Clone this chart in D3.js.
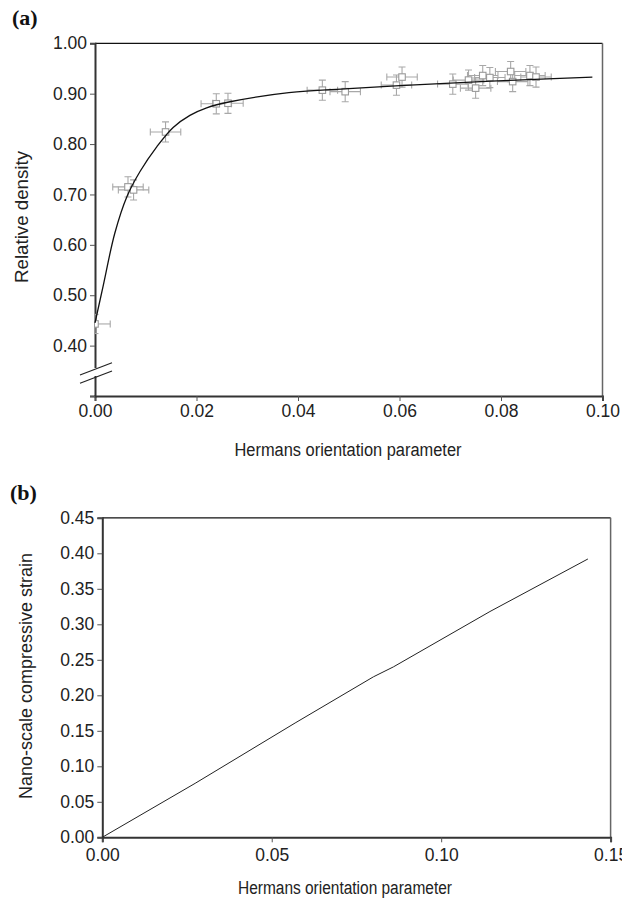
<!DOCTYPE html>
<html>
<head>
<meta charset="utf-8">
<script src="https://cdn.jsdelivr.net/npm/d3@7"></script>
<style>
  body { margin: 0; background: #fff; }
  svg { display: block; font-family: "Liberation Sans", Arial, sans-serif; }
</style>
</head>
<body>
<script>
// panel (a): measured points with error bars
const hermansA = [0.0000, 0.0065, 0.0076, 0.0139, 0.0239, 0.0262, 0.0448, 0.0493, 0.0594, 0.0605,
	0.0705, 0.0736, 0.0750, 0.0764, 0.0778, 0.0819, 0.0823, 0.0857, 0.0869];
const densityA = [0.443, 0.715, 0.709, 0.824, 0.880, 0.881, 0.907, 0.904, 0.917, 0.933,
	0.919, 0.927, 0.911, 0.936, 0.932, 0.944, 0.924, 0.936, 0.933];
const xErrA = [0.003, 0.003, 0.003, 0.003, 0.003, 0.003, 0.003, 0.003, 0.003, 0.003,
	0.003, 0.003, 0.003, 0.003, 0.003, 0.003, 0.003, 0.003, 0.003];
const yErrA = [0.019, 0.02, 0.02, 0.02, 0.02, 0.02, 0.02, 0.02, 0.02, 0.02,
	0.02, 0.02, 0.02, 0.02, 0.02, 0.02, 0.02, 0.02, 0.02];

// panel (a): fitted curve
const fitX = [0.0000, 0.0016, 0.0039, 0.0063, 0.0089, 0.0122, 0.0154, 0.0187, 0.0220, 0.0266, 0.0382, 0.0500, 0.0680, 0.0830, 0.0980];
const fitY = [0.445, 0.518, 0.623, 0.696, 0.746, 0.795, 0.833, 0.857, 0.872, 0.884, 0.902, 0.910, 0.920, 0.927, 0.933];

const yTicksA = [0.30, 0.40, 0.50, 0.60, 0.70, 0.80, 0.90, 1.00];
const xTicksA = [0.00, 0.02, 0.04, 0.06, 0.08, 0.10];

// panel (b): strain line
const hermansB = [0.0000, 0.0274, 0.0569, 0.0800, 0.0859, 0.1144, 0.1433];
const strainB = [0.000, 0.076, 0.161, 0.226, 0.240, 0.318, 0.392];

const yTicksB = [0.00, 0.05, 0.10, 0.15, 0.20, 0.25, 0.30, 0.35, 0.40, 0.45];
const xTicksB = [0.00, 0.05, 0.10, 0.15];

const W = 622, H = 904;
const svg = d3.select("body").append("svg").attr("width", W).attr("height", H);

function frame(g, x, y, w, h) {
	// top and right border lines
	g.append("line").attr("x1", x).attr("x2", x + w).attr("y1", y).attr("y2", y)
		.attr("stroke", "#111").attr("stroke-width", 1.2);
	g.append("line").attr("x1", x + w).attr("x2", x + w).attr("y1", y).attr("y2", y + h)
		.attr("stroke", "#666").attr("stroke-width", 1.5);
}

function styleAxis(ax) {
	ax.select(".domain").attr("stroke", "#333").attr("stroke-width", 2);
	ax.selectAll(".tick line").attr("stroke", "#555").attr("stroke-width", 1);
	ax.selectAll(".tick text").attr("fill", "#222").attr("font-size", 17.5);
}

function title(txt, tr, size, len) {
	svg.append("text").text(txt)
		.attr("transform", tr).attr("text-anchor", "middle")
		.attr("font-size", size).attr("fill", "#222")
		.attr("textLength", len).attr("lengthAdjust", "spacingAndGlyphs");
}

// ---------- panel (a) ----------
{
	const left = 95, top = 43.3, right = 602.5, bottom = 396;
	const x = d3.scaleLinear().domain([0, 0.10]).range([left, right]);
	const y = d3.scaleLinear().domain([0.30, 1.00]).range([bottom, top]);
	const g = svg.append("g");

	svg.append("text").text("(a)").attr("x", 12).attr("y", 25)
		.attr("font-family", "'Liberation Serif', 'Times New Roman', serif")
		.attr("font-weight", "bold").attr("font-size", 22).attr("fill", "#111");

	frame(g, left, top, right - left, bottom - top);

	const ax = g.append("g").attr("transform", "translate(0," + bottom + ")")
		.call(d3.axisBottom(x).tickValues(xTicksA).tickFormat(d3.format(".2f")).tickSizeOuter(0).tickSize(5).tickPadding(4));
	styleAxis(ax);
	const ay = g.append("g").attr("transform", "translate(" + left + ",0)")
		.call(d3.axisLeft(y).tickValues(yTicksA).tickFormat(d => d < 0.35 ? "" : d3.format(".2f")(d)).tickSizeOuter(0).tickSize(5).tickPadding(3));
	styleAxis(ay);

	// axis break marks
	g.append("rect").attr("x", left - 2).attr("y", 368).attr("width", 4).attr("height", 8).attr("fill", "#fff");
	[[375, 362.7], [383.3, 371]].forEach(p => {
		g.append("line").attr("x1", 80).attr("y1", p[0]).attr("x2", 112).attr("y2", p[1])
			.attr("stroke", "#222").attr("stroke-width", 1.2);
	});

	svg.append("defs").append("clipPath").attr("id", "clipA")
		.append("rect").attr("x", left).attr("y", top).attr("width", right - left).attr("height", bottom - top);

	const pts = g.append("g").attr("clip-path", "url(#clipA)");
	const data = hermansA.map((d, i) => ({x: d, y: densityA[i], ex: xErrA[i], ey: yErrA[i]}));
	const cap = 3.5;
	const eb = pts.selectAll("g.err").data(data).join("g").attr("class", "err")
		.attr("stroke", "#a8a8a8").attr("stroke-width", 1.1).attr("fill", "none");
	eb.append("line").attr("x1", d => x(d.x - d.ex)).attr("x2", d => x(d.x + d.ex)).attr("y1", d => y(d.y)).attr("y2", d => y(d.y));
	eb.append("line").attr("x1", d => x(d.x)).attr("x2", d => x(d.x)).attr("y1", d => y(d.y - d.ey)).attr("y2", d => y(d.y + d.ey));
	eb.append("line").attr("x1", d => x(d.x - d.ex)).attr("x2", d => x(d.x - d.ex)).attr("y1", d => y(d.y) - cap).attr("y2", d => y(d.y) + cap);
	eb.append("line").attr("x1", d => x(d.x + d.ex)).attr("x2", d => x(d.x + d.ex)).attr("y1", d => y(d.y) - cap).attr("y2", d => y(d.y) + cap);
	eb.append("line").attr("x1", d => x(d.x) - cap).attr("x2", d => x(d.x) + cap).attr("y1", d => y(d.y - d.ey)).attr("y2", d => y(d.y - d.ey));
	eb.append("line").attr("x1", d => x(d.x) - cap).attr("x2", d => x(d.x) + cap).attr("y1", d => y(d.y + d.ey)).attr("y2", d => y(d.y + d.ey));

	const fit = fitX.map((d, i) => [d, fitY[i]]);
	g.append("path").datum(fit)
		.attr("d", d3.line().x(d => x(d[0])).y(d => y(d[1])).curve(d3.curveCatmullRom.alpha(0.5)))
		.attr("fill", "none").attr("stroke", "#111").attr("stroke-width", 1.3);

	const s = 6.5;
	pts.selectAll("rect.pt").data(data).join("rect").attr("class", "pt")
		.attr("x", d => x(d.x) - s / 2).attr("y", d => y(d.y) - s / 2)
		.attr("width", s).attr("height", s)
		.attr("fill", "#fff").attr("stroke", "#999").attr("stroke-width", 1.1);

	title("Hermans orientation parameter", "translate(348,456)", 18, 227);
	title("Relative density", "translate(28,217) rotate(-90)", 18.5, 132);
}

// ---------- panel (b) ----------
{
	const left = 102.3, top = 517.8, right = 610.6, bottom = 837.3;
	const x = d3.scaleLinear().domain([0, 0.15]).range([left, right]);
	const y = d3.scaleLinear().domain([0, 0.45]).range([bottom, top]);
	const g = svg.append("g");

	svg.append("text").text("(b)").attr("x", 10).attr("y", 500)
		.attr("font-family", "'Liberation Serif', 'Times New Roman', serif")
		.attr("font-weight", "bold").attr("font-size", 22).attr("fill", "#111");

	frame(g, left, top, right - left, bottom - top);

	const ax = g.append("g").attr("transform", "translate(0," + bottom + ")")
		.call(d3.axisBottom(x).tickValues(xTicksB).tickFormat(d3.format(".2f")).tickSizeOuter(0).tickSize(5).tickPadding(6));
	styleAxis(ax);
	const ay = g.append("g").attr("transform", "translate(" + left + ",0)")
		.call(d3.axisLeft(y).tickValues(yTicksB).tickFormat(d3.format(".2f")).tickSizeOuter(0).tickSize(5).tickPadding(3));
	styleAxis(ay);

	const line = hermansB.map((d, i) => [d, strainB[i]]);
	g.append("path").datum(line)
		.attr("d", d3.line().x(d => x(d[0])).y(d => y(d[1])))
		.attr("fill", "none").attr("stroke", "#222").attr("stroke-width", 1);

	title("Hermans orientation parameter", "translate(345,894)", 18, 214);
	title("Nano-scale compressive strain", "translate(32,676) rotate(-90)", 18, 246);
}
</script>
</body>
</html>
